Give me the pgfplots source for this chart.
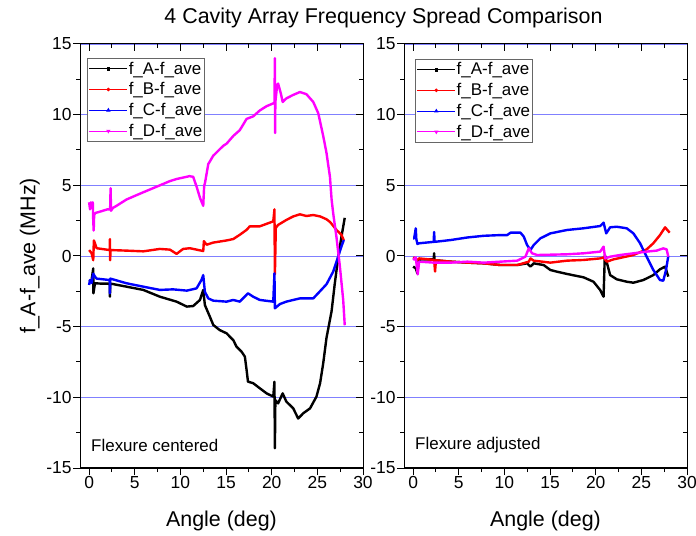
\documentclass[border=0pt]{standalone}
\usepackage{pgfplots}
\pgfplotsset{compat=1.18}
\usepackage{fontspec}
\setmainfont{Liberation Sans}
\definecolor{gridblue}{rgb}{0.5,0.5,1}
\definecolor{mag}{rgb}{1,0,1}
\pgfplotsset{
  base/.style={
    scale only axis, width=283bp, height=424bp,
    xmin=-1, xmax=30, ymin=-15, ymax=15,
    xtick={0,5,...,30}, ytick={-15,-10,...,15},
    minor x tick num=1, minor y tick num=1,
    major tick length=7bp, minor tick length=4bp,
    axis line style={line width=1bp},
    every tick/.style={black, line width=1bp},
    /pgf/number format/assume math mode=true,
  },
  main/.style={
    base,
    xtick pos=left, ytick pos=left, tick align=outside,
    ymajorgrids, major grid style={gridblue, line width=0.8bp},
    tick label style={font=\fontsize{17.5}{20}\selectfont, inner sep=1.2bp},
    xlabel style={font=\fontsize{21.5}{25}\selectfont, at={(axis description cs:0.5,-0.125)}, anchor=center},
    ylabel style={font=\fontsize{21.5}{25}\selectfont, at={(axis description cs:-0.177,0.5)}, anchor=center},
    xlabel={Angle (deg)},
    legend style={anchor=north west, draw=black!60, line width=0.8bp,
      font=\fontsize{17}{19}\selectfont, inner xsep=1.5bp, inner ysep=2.5bp,
      row sep=5bp, nodes={inner sep=1bp}},
    legend cell align=left,
    legend image code/.code={\draw[mark repeat=2,mark phase=2,##1] plot coordinates {(0bp,0bp) (19bp,0bp) (38bp,0bp)};},
  },
  mirror/.style={
    base,
    xtick pos=right, ytick pos=right, tick align=inside,
    xticklabels={}, yticklabels={},
  },
  sA/.style={black, line width=2.4bp, line join=round},
  sB/.style={red, line width=2.4bp, line join=round},
  sC/.style={blue, line width=2.4bp, line join=round},
  sD/.style={mag, line width=2.4bp, line join=round},
}
\newcommand{\legimgs}{%
  \addlegendimage{black, line width=0.8bp, mark=square*, mark size=1.3bp}
  \addlegendentry{f\_A-f\_ave}
  \addlegendimage{red, line width=0.8bp, mark=*, mark size=1.4bp}
  \addlegendentry{f\_B-f\_ave}
  \addlegendimage{blue, line width=0.8bp, mark=triangle*, mark size=1.7bp}
  \addlegendentry{f\_C-f\_ave}
  \addlegendimage{mag, line width=0.8bp, mark=triangle*, mark size=1.7bp, mark options={rotate=180}}
  \addlegendentry{f\_D-f\_ave}}
\begin{document}
\begin{tikzpicture}
\useasboundingbox (0,0) rectangle (696bp,536bp);
% ---------- left panel ----------
\begin{axis}[main, at={(80bp,68bp)}, anchor=south west,
  ylabel={f\_A-f\_ave (MHz)},
  legend style={at={(axis description cs:0.025,0.967)}}]
\legimgs
\addplot[sA, forget plot] coordinates {(0.0,-1.8) (0.27,-1.7) (0.45,-0.88) (0.47,-2.64) (0.64,-1.93) (1.2,-1.95) (2.25,-1.95) (2.28,-2.88) (2.32,-1.95) (4.1,-2.17) (5.93,-2.4) (7.75,-2.88) (9.58,-3.23) (10.7,-3.58) (11.4,-3.54) (12.14,-3.11) (12.5,-2.4) (12.68,-3.47) (13.23,-4.3) (13.6,-4.88) (14.3,-5.24) (15.06,-5.47) (15.4,-5.7) (15.79,-5.95) (16.15,-6.42) (16.7,-6.77) (17.06,-7.12) (17.25,-8.07) (17.4,-8.89) (17.97,-9.0) (18.7,-9.36) (19.44,-9.72) (20.17,-9.95) (20.3,-8.9) (20.35,-13.6) (20.4,-10.2) (20.7,-10.43) (21.2,-9.72) (21.6,-10.3) (22.36,-10.78) (22.9,-11.5) (23.45,-11.13) (24.2,-10.78) (24.9,-9.95) (25.3,-9.0) (25.64,-7.6) (26.0,-5.8) (26.56,-3.9) (26.9,-2.0) (27.3,0.0) (27.65,1.4) (28.0,2.7)};
\addplot[sB, forget plot] coordinates {(0.0,0.42) (0.27,0.2) (0.45,-0.3) (0.52,1.1) (0.64,0.9) (0.82,0.55) (2.25,0.42) (2.28,1.2) (2.3,-0.3) (2.35,0.42) (4.1,0.38) (5.93,0.33) (7.75,0.5) (8.85,0.45) (9.58,0.15) (10.3,0.5) (11.04,0.55) (12.14,0.4) (12.5,0.35) (12.57,1.05) (12.87,0.8) (13.6,0.95) (15.06,1.1) (15.79,1.2) (16.5,1.5) (17.25,1.85) (17.6,2.1) (18.7,2.1) (20.17,2.45) (20.3,3.3) (20.35,-1.3) (20.45,2.0) (20.7,2.2) (21.6,2.55) (22.36,2.8) (23.09,2.95) (23.8,2.83) (24.55,2.9) (25.3,2.8) (26.0,2.6) (26.4,2.4) (27.1,1.84) (27.65,1.49) (27.9,1.1)};
\addplot[sC, forget plot] coordinates {(0.0,-2.05) (0.09,-1.7) (0.27,-1.9) (0.45,-1.25) (0.64,-1.46) (0.82,-1.6) (2.25,-1.7) (2.28,-2.64) (2.32,-1.6) (4.1,-1.93) (5.93,-2.17) (7.75,-2.4) (9.2,-2.36) (10.7,-2.45) (11.77,-2.29) (12.3,-1.7) (12.5,-1.35) (12.68,-2.53) (13.05,-3.0) (13.6,-3.16) (15.06,-3.23) (15.79,-3.11) (16.5,-3.23) (17.4,-2.64) (17.97,-2.88) (18.7,-3.11) (20.17,-3.23) (20.3,-1.23) (20.35,-3.7) (20.9,-3.4) (21.6,-3.23) (22.36,-3.11) (23.09,-3.0) (24.55,-3.0) (25.28,-2.5) (26.0,-2.0) (26.74,-1.1) (27.3,0.0) (27.65,0.7) (27.9,1.13)};
\addplot[sD, forget plot] coordinates {(0.0,3.8) (0.1,3.3) (0.2,3.8) (0.3,3.4) (0.4,3.8) (0.45,2.5) (0.5,1.8) (0.55,2.9) (0.7,3.05) (1.0,3.1) (1.5,3.2) (2.0,3.3) (2.3,3.3) (2.35,4.8) (2.4,3.2) (2.6,3.4) (3.0,3.55) (4.1,4.0) (5.9,4.5) (7.75,5.0) (8.85,5.3) (9.6,5.45) (11.0,5.65) (11.4,5.6) (11.8,4.85) (12.15,4.1) (12.5,3.55) (12.6,4.95) (12.7,5.2) (13.05,6.5) (13.6,7.1) (14.7,7.8) (15.06,7.95) (15.8,8.5) (16.5,8.9) (17.25,9.7) (17.97,9.88) (18.7,10.3) (19.44,10.6) (20.17,10.8) (20.3,10.85) (20.35,14.0) (20.37,8.7) (20.4,10.9) (20.6,12.1) (20.7,12.2) (21.0,11.5) (21.2,10.9) (21.6,11.15) (22.36,11.4) (23.09,11.6) (23.8,11.45) (24.55,10.9) (25.1,10.1) (25.64,8.5) (26.0,7.3) (26.38,5.6) (26.56,4.0) (26.74,3.0) (27.1,1.3) (27.47,-0.75) (27.83,-3.1) (28.0,-4.9)};
\node[anchor=west, font=\fontsize{17}{20}\selectfont, inner sep=0pt] at (axis description cs:0.039,0.054) {Flexure centered};
\end{axis}
\begin{axis}[mirror, at={(80bp,68bp)}, anchor=south west]
\addplot[draw=none] coordinates {(0,0)};
\end{axis}
% ---------- right panel ----------
\begin{axis}[main, at={(404bp,68bp)}, anchor=south west,
  legend style={at={(axis description cs:0.039,0.965)}}]
\legimgs
\addplot[sA, forget plot] coordinates {(0.0,-0.75) (0.29,-0.87) (0.47,-1.23) (0.6,-0.3) (0.84,-0.24) (2.25,-0.24) (2.3,0.19) (2.35,-0.3) (4.12,-0.4) (5.94,-0.47) (7.75,-0.52) (9.57,-0.64) (11.4,-0.64) (12.48,-0.52) (12.85,-0.75) (13.21,-0.52) (14.3,-0.64) (15.03,-0.99) (15.76,-1.11) (16.85,-1.27) (18.67,-1.51) (19.76,-1.82) (20.49,-2.41) (20.86,-2.88) (21.0,0.07) (21.58,-1.35) (22.31,-1.65) (23.4,-1.82) (24.13,-1.89) (25.22,-1.7) (26.31,-1.35) (27.04,-0.94) (27.6,-0.75) (27.95,-1.46)};
\addplot[sB, forget plot] coordinates {(0.0,-0.09) (0.47,-0.28) (0.66,-0.17) (2.3,-0.28) (2.4,-1.1) (2.5,-0.3) (4.12,-0.4) (5.94,-0.47) (7.75,-0.52) (9.57,-0.64) (11.4,-0.64) (12.67,-0.4) (12.85,-0.17) (13.21,-0.33) (15.03,-0.47) (16.85,-0.33) (18.67,-0.28) (20.49,-0.17) (20.86,-0.1) (21.22,-0.4) (21.94,-0.24) (24.13,0.07) (25.58,0.47) (26.31,0.9) (27.04,1.48) (27.6,2.03) (28.1,1.65)};
\addplot[sC, forget plot] coordinates {(0.0,1.25) (0.11,1.25) (0.29,1.96) (0.35,1.2) (0.47,0.85) (0.66,0.9) (2.25,1.0) (2.3,1.7) (2.35,1.0) (4.12,1.13) (5.94,1.31) (7.75,1.43) (9.57,1.48) (10.3,1.48) (10.67,1.65) (11.76,1.65) (12.12,1.37) (12.48,0.78) (12.85,0.42) (13.21,0.78) (13.94,1.25) (15.03,1.6) (16.85,1.84) (18.67,1.96) (20.49,2.12) (20.86,2.36) (21.15,1.6) (21.58,2.03) (22.31,2.07) (23.4,1.96) (24.13,1.6) (24.86,0.9) (25.58,-0.05) (26.31,-0.99) (27.04,-1.7) (27.4,-1.75) (27.7,-1.0) (27.95,0.0)};
\addplot[sD, forget plot] coordinates {(0.0,-0.28) (0.29,-0.1) (0.5,-1.3) (0.66,-0.4) (2.3,-0.47) (4.12,-0.47) (5.94,-0.4) (7.75,-0.47) (9.57,-0.4) (11.4,-0.33) (12.3,-0.05) (12.67,0.54) (13.03,0.19) (13.58,0.07) (16.85,0.12) (18.67,0.19) (20.49,0.31) (20.86,0.66) (21.04,-0.17) (21.58,-0.05) (22.67,0.07) (24.13,0.19) (25.58,0.31) (26.67,0.38) (27.4,0.54) (27.77,0.47) (27.95,-0.05)};
\node[anchor=west, font=\fontsize{17}{20}\selectfont, inner sep=0pt] at (axis description cs:0.039,0.054) {Flexure adjusted};
\end{axis}
\begin{axis}[mirror, at={(404bp,68bp)}, anchor=south west]
\addplot[draw=none] coordinates {(0,0)};
\end{axis}
\node[font=\fontsize{21.5}{25}\selectfont] at (383.5bp,518bp) {4 Cavity Array Frequency Spread Comparison};
\end{tikzpicture}
\end{document}
